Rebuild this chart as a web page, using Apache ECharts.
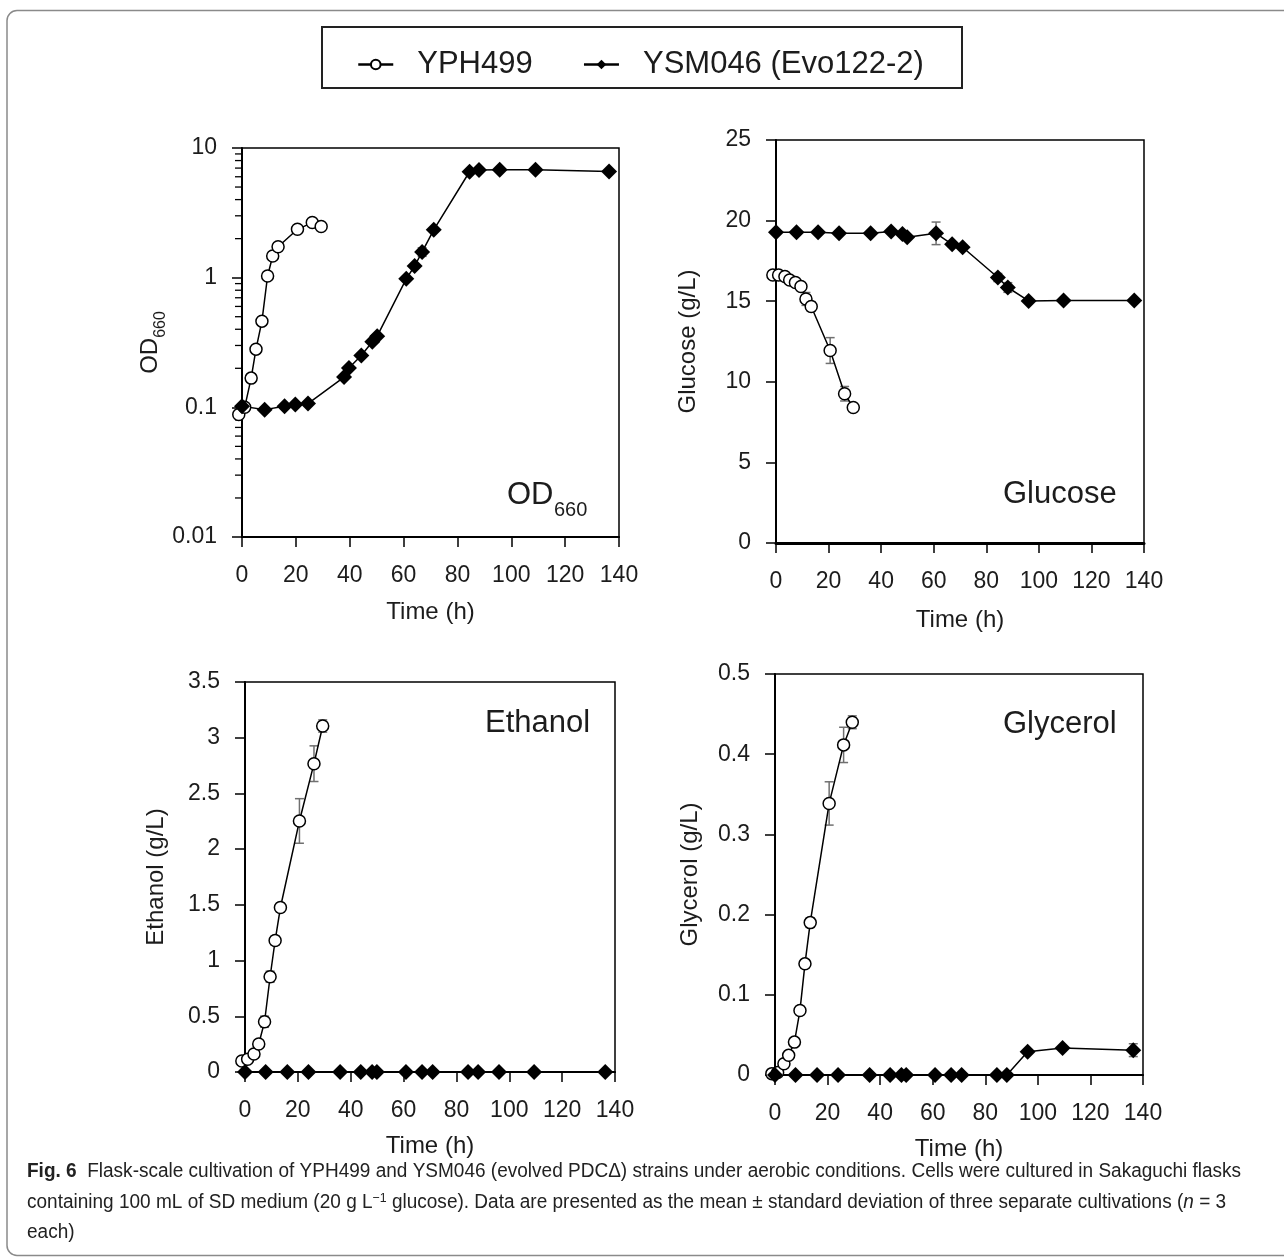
<!DOCTYPE html>
<html><head><meta charset="utf-8">
<script src="https://cdn.jsdelivr.net/npm/echarts@6/dist/echarts.min.js"></script>
<style>html,body{margin:0;padding:0;background:#fff;} #c{width:1284px;height:1259px;}</style>
</head><body><div id="c"></div>
<script>
// ---------- data ----------
const seriesNames = ['YPH499', 'YSM046 (Evo122-2)'];
const timeYPH = [-1.2, 1.0, 3.4, 5.2, 7.4, 9.5, 11.4, 13.4, 20.6, 26.1, 29.4];
const timeYSM = [0, 7.8, 16, 24, 36, 43.8, 48.1, 49.9, 60.9, 67, 71, 84.4, 88.2, 96.1, 109.4, 136.3];
const timeYSM_OD = [0, 8.4, 15.8, 19.8, 24.5, 37.9, 39.7, 44.3, 48.4, 50.2, 61, 64.1, 66.9, 71.2, 84.5, 88, 95.7, 109, 136.3];

const odYPH    = [0.088, 0.100, 0.168, 0.281, 0.462, 1.03, 1.47, 1.73, 2.36, 2.66, 2.48];
const odYPHErr = [0.003, 0.004, 0.006, 0.01, 0.02, 0.05, 0.08, 0.1, 0.12, 0.1, 0.12];
const odYSM    = [0.102, 0.096, 0.102, 0.105, 0.107, 0.171, 0.201, 0.251, 0.320, 0.354, 0.98, 1.23, 1.58, 2.34, 6.56, 6.76, 6.8, 6.8, 6.6];
const odYSMErr = [0.003, 0.003, 0.003, 0.003, 0.004, 0.006, 0.008, 0.01, 0.012, 0.012, 0.04, 0.05, 0.12, 0.08, 0.2, 0.2, 0.15, 0.15, 0.15];

const gluYPH    = [16.63, 16.63, 16.53, 16.32, 16.16, 15.91, 15.14, 14.67, 11.94, 9.26, 8.41];
const gluYPHErr = [0.1, 0.1, 0.1, 0.1, 0.12, 0.15, 0.4, 0.3, 0.8, 0.45, 0.2];
const gluYSM    = [19.28, 19.28, 19.28, 19.21, 19.21, 19.32, 19.17, 18.97, 19.21, 18.53, 18.35, 16.47, 15.85, 15.02, 15.04, 15.04];
const gluYSMErr = [0.1, 0.1, 0.1, 0.1, 0.1, 0.1, 0.1, 0.1, 0.7, 0.15, 0.15, 0.25, 0.3, 0.1, 0.1, 0.1];

const ethYPH    = [0.099, 0.114, 0.161, 0.251, 0.451, 0.855, 1.18, 1.476, 2.253, 2.767, 3.105];
const ethYPHErr = [0.01, 0.02, 0.03, 0.03, 0.05, 0.05, 0.04, 0.04, 0.2, 0.16, 0.055];
const ethYSM    = [0, 0, 0, 0, 0, 0, 0, 0, 0, 0, 0, 0, 0, 0, 0, 0];

const glyYPH    = [0.0017, 0.003, 0.014, 0.0245, 0.041, 0.0805, 0.1386, 0.190, 0.3386, 0.4116, 0.4398];
const glyYPHErr = [0, 0.002, 0.003, 0.003, 0.004, 0.005, 0.005, 0.006, 0.027, 0.022, 0.008];
const glyYSM    = [0, 0, 0, 0, 0, 0, 0, 0, 0, 0, 0, 0, 0, 0.029, 0.0336, 0.031];
const glyYSMErr = [0, 0, 0, 0, 0, 0, 0, 0, 0, 0, 0, 0, 0, 0.003, 0.003, 0.008];

const logMinorTicks = [0.02,0.03,0.04,0.05,0.06,0.07,0.08,0.09,0.2,0.3,0.4,0.5,0.6,0.7,0.8,0.9,2,3,4,5,6,7,8,9];

const captionLines = [
  ['Fig. 6', '  Flask-scale cultivation of YPH499 and YSM046 (evolved PDCΔ) strains under aerobic conditions. Cells were cultured in Sakaguchi flasks'],
  ['', 'containing 100 mL of SD medium (20 g L', '−1', ' glucose). Data are presented as the mean ± standard deviation of three separate cultivations (', 'n', ' = 3'],
  ['', 'each)']
];

// ---------- helpers ----------
const TXT = '#1c1c1c';
const FONT = "'Liberation Sans', Arial, sans-serif";
const CAP_FONT = "'Liberation Sans', Arial, sans-serif";

function lineSeries(name, gi, xs, ys, open) {
  return {
    type: 'line', name: name, xAxisIndex: gi, yAxisIndex: gi,
    data: xs.map((x, i) => [x, ys[i]]),
    symbol: open ? 'circle' : 'diamond',
    symbolSize: open ? 12 : 16,
    itemStyle: open ? {color: '#fff', borderColor: '#000', borderWidth: 1.5} : {color: '#000', borderColor: '#000', borderWidth: 0},
    lineStyle: {color: '#000', width: 1.5},
    clip: false, z: 3, animation: false, emphasis: {disabled: true}
  };
}
function errSeries(gi, xs, ys, es) {
  return {
    type: 'custom', xAxisIndex: gi, yAxisIndex: gi, silent: true, clip: false, z: 1, animation: false,
    data: xs.map((x, i) => [x, ys[i], es[i]]).filter(d => d[2] > 0),
    renderItem: function (params, api) {
      const x = api.value(0), y = api.value(1), e = api.value(2);
      const lo = api.coord([x, Math.max(y - e, 1e-6)]);
      const hi = api.coord([x, y + e]);
      const w = 4.5;
      const st = {stroke: '#707070', lineWidth: 1.5};
      return {type: 'group', children: [
        {type: 'line', shape: {x1: lo[0], y1: lo[1], x2: hi[0], y2: hi[1]}, style: st},
        {type: 'line', shape: {x1: lo[0] - w, y1: lo[1], x2: lo[0] + w, y2: lo[1]}, style: st},
        {type: 'line', shape: {x1: hi[0] - w, y1: hi[1], x2: hi[0] + w, y2: hi[1]}, style: st}
      ]};
    }
  };
}
function xAxis(gi, gap, lw) {
  return {
    type: 'value', gridIndex: gi, min: 0, max: 140, interval: 20,
    name: 'Time (h)', nameLocation: 'middle', nameGap: gap,
    nameTextStyle: {fontSize: 24, color: TXT, fontFamily: FONT},
    axisLine: {show: true, onZero: false, lineStyle: {color: '#000', width: lw || 2}},
    axisTick: {show: true, length: 10, lineStyle: {color: '#000', width: 1.5}},
    axisLabel: {fontSize: 23, color: TXT, margin: 27, fontFamily: FONT},
    splitLine: {show: false}
  };
}
function yAxis(gi, opts) {
  return Object.assign({
    gridIndex: gi, nameLocation: 'middle', nameRotate: 90,
    nameTextStyle: {fontSize: 24, color: TXT, fontFamily: FONT},
    axisLine: {show: true, onZero: false, lineStyle: {color: '#000', width: 2}},
    axisTick: {show: true, length: 10, lineStyle: {color: '#000', width: 1.5}},
    axisLabel: {fontSize: 23, color: TXT, margin: 25, fontFamily: FONT},
    splitLine: {show: false}
  }, opts);
}

// caption scaling to mimic the condensed caption face
function measure(txt, font) {
  const c = document.createElement('canvas').getContext('2d');
  c.font = font;
  return c.measureText(txt).width;
}
const capPlain1 = captionLines[0].join('');
const capW = measure(capPlain1, "20px " + CAP_FONT);
const capScale = capW > 0 ? 1212 / capW : 0.85;

function capText(parts) {
  if (parts.length === 2 && parts[0] === 'Fig. 6') return '{b|Fig. 6}' + parts[1];
  if (parts.length === 6) return parts[1] + '{sup|' + parts[2] + '}' + parts[3] + '{i|' + parts[4] + '}' + parts[5];
  return parts.join('');
}
const capRich = {
  b: {fontSize: 20, fontWeight: 'bold', fill: '#222', fontFamily: CAP_FONT},
  sup: {fontSize: 13, fill: '#222', verticalAlign: 'top', fontFamily: CAP_FONT},
  i: {fontSize: 20, fontStyle: 'italic', fill: '#222', fontFamily: CAP_FONT}
};
const capYs = [1161, 1192, 1222];

const gridStyle = {show: true, borderColor: '#000', borderWidth: 1.5, backgroundColor: 'transparent'};

const option = {
  backgroundColor: '#fff',
  animation: false,
  textStyle: {fontFamily: FONT},
  grid: [
    Object.assign({left: 242, top: 148, width: 377, height: 389}, gridStyle),
    Object.assign({left: 776, top: 140, width: 368, height: 403}, gridStyle),
    Object.assign({left: 245, top: 682, width: 370, height: 390}, gridStyle),
    Object.assign({left: 775, top: 674, width: 368, height: 401}, gridStyle)
  ],
  xAxis: [xAxis(0, 63), xAxis(1, 65, 3), xAxis(2, 62), xAxis(3, 62)],
  yAxis: [
    yAxis(0, {type: 'log', logBase: 10, min: 0.01, max: 10, name: 'OD{s|660}', nameGap: 72,
      nameTextStyle: {fontSize: 24, color: TXT, fontFamily: FONT,
        rich: {s: {fontSize: 16, color: TXT, fontFamily: FONT, verticalAlign: 'bottom', lineHeight: 36}}},
      axisLabel: {fontSize: 23, color: TXT, margin: 25, fontFamily: FONT, formatter: v => String(+v.toPrecision(3))}}),
    yAxis(1, {type: 'value', min: 0, max: 25, interval: 5, name: 'Glucose (g/L)', nameGap: 76}),
    yAxis(2, {type: 'value', min: 0, max: 3.5, interval: 0.5, name: 'Ethanol (g/L)', nameGap: 77}),
    yAxis(3, {type: 'value', min: 0, max: 0.5, interval: 0.1, name: 'Glycerol (g/L)', nameGap: 73})
  ],
  legend: {
    data: seriesNames, left: 357, top: 49, padding: 0, itemWidth: 35, itemHeight: 12, itemGap: 50,
    lineStyle: {width: 2.5},
    textStyle: {fontSize: 31, color: TXT, fontFamily: FONT, padding: [0, 0, 0, 19]},
    selectedMode: false
  },
  graphic: [
    {type: 'rect', shape: {x: 7, y: 10.5, width: 1300, height: 1245, r: 10}, style: {fill: 'none', stroke: '#8a8a8a', lineWidth: 1.5}, silent: true, z: -10},
    {type: 'rect', shape: {x: 322, y: 27, width: 640, height: 61}, style: {fill: 'none', stroke: '#222', lineWidth: 2}, silent: true},
    {type: 'text', left: 507, top: 480, style: {text: 'OD', fontSize: 31, fill: TXT, fontFamily: FONT}},
    {type: 'text', left: 554, top: 500, style: {text: '660', fontSize: 20, fill: TXT, fontFamily: FONT}},
    {type: 'text', left: 1003, top: 479, style: {text: 'Glucose', fontSize: 31, fill: TXT, fontFamily: FONT}},
    {type: 'text', left: 485, top: 708, style: {text: 'Ethanol', fontSize: 31, fill: TXT, fontFamily: FONT}},
    {type: 'text', left: 1003, top: 709, style: {text: 'Glycerol', fontSize: 31, fill: TXT, fontFamily: FONT}}
  ].concat(captionLines.map((parts, k) => ({
    type: 'text', x: 27, y: capYs[k], scaleX: capScale, silent: true,
    style: {text: capText(parts), fontSize: 20, fill: '#222', fontFamily: CAP_FONT, rich: capRich}
  }))),
  series: [
    {
      type: 'custom', xAxisIndex: 0, yAxisIndex: 0, silent: true, clip: false, z: 2, animation: false,
      data: logMinorTicks.map(v => [0, v]),
      renderItem: function (params, api) {
        const p = api.coord([0, api.value(1)]);
        return {type: 'line', shape: {x1: p[0] - 7, y1: p[1], x2: p[0], y2: p[1]}, style: {stroke: '#000', lineWidth: 1.3}};
      }
    },
    errSeries(0, timeYPH, odYPH, odYPHErr),
    errSeries(0, timeYSM_OD, odYSM, odYSMErr),
    errSeries(1, timeYPH, gluYPH, gluYPHErr),
    errSeries(1, timeYSM, gluYSM, gluYSMErr),
    errSeries(2, timeYPH, ethYPH, ethYPHErr),
    errSeries(3, timeYPH, glyYPH, glyYPHErr),
    errSeries(3, timeYSM, glyYSM, glyYSMErr),
    lineSeries(seriesNames[0], 0, timeYPH, odYPH, true),
    lineSeries(seriesNames[1], 0, timeYSM_OD, odYSM, false),
    lineSeries(seriesNames[0], 1, timeYPH, gluYPH, true),
    lineSeries(seriesNames[1], 1, timeYSM, gluYSM, false),
    lineSeries(seriesNames[0], 2, timeYPH, ethYPH, true),
    lineSeries(seriesNames[1], 2, timeYSM, ethYSM, false),
    lineSeries(seriesNames[0], 3, timeYPH, glyYPH, true),
    lineSeries(seriesNames[1], 3, timeYSM, glyYSM, false)
  ]
};

const chart = echarts.init(document.getElementById('c'), null, {renderer: 'canvas', width: 1284, height: 1259});
chart.setOption(option);
</script>
</body></html>
